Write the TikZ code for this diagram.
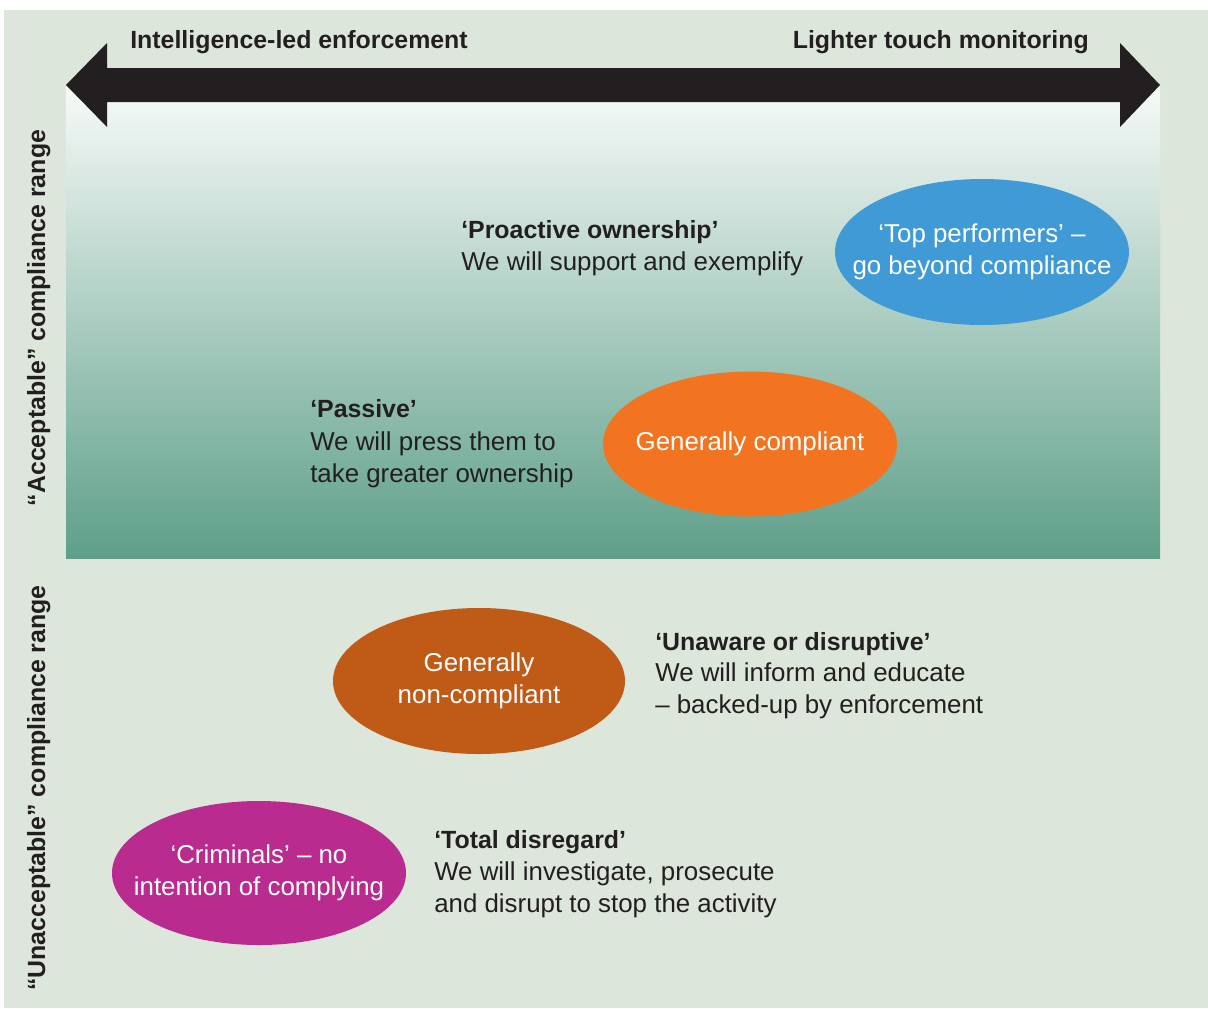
\documentclass[tikz,border=0pt]{standalone}
\usepackage{fontspec}
\setmainfont{Liberation Sans}
\usetikzlibrary{positioning}
\definecolor{panel}{HTML}{DCE6DA}
\definecolor{ink}{HTML}{231F20}
\definecolor{mist}{HTML}{F7FAF8}
\definecolor{teal}{HTML}{5E9F89}
\definecolor{topblue}{HTML}{3F9AD6}
\definecolor{midorange}{HTML}{F27421}
\definecolor{rust}{HTML}{BF5A17}
\definecolor{plum}{HTML}{B92B8E}
\tikzset{heading/.style = {font=\bfseries\fontsize{17.7}{22.7}\selectfont, text=ink, inner sep=0, anchor=base west}}
\tikzset{remark/.style = {font=\fontsize{18.4}{22.7}\selectfont, text=ink, inner sep=0, align=left, anchor=base west}}
\tikzset{ovaltext/.style = {font=\fontsize{18.4}{22.7}\selectfont, text=white, inner sep=0, align=center}}
\tikzset{sidelabel/.style = {heading, rotate=90, anchor=base}}

\begin{document}
\begin{tikzpicture}[x=0.025cm, y=-0.025cm]
      \useasboundingbox (0, 0) rectangle (1208, 1008);
      \fill [panel] (4, 10) rectangle (1208, 1008);
      \shade [top color=mist, bottom color=teal] (66, 85) rectangle (1160, 558);
      \fill [ink] (66, 85) -- (107, 43) -- (107, 68) -- (1120, 68) -- (1120, 43) -- (1160, 85)
                  -- (1120, 127) -- (1120, 102) -- (107, 102) -- (107, 127) -- cycle;
      \node [heading] (enforce) at (130, 48) {Intelligence-led enforcement};
      \node [heading, anchor=base east] (monitor) at (1089, 48) {Lighter touch monitoring};
      \node [sidelabel] (accept) at (45, 318) {“Acceptable” compliance range};
      \node [sidelabel] (unaccept) at (45, 788) {“Unacceptable” compliance range};

      \fill [topblue] (982, 252) ellipse [x radius=147, y radius=73];
      \node [ovaltext] (top) at (982, 252) {‘Top performers’ –\\go beyond compliance};
      \fill [midorange] (750, 444) ellipse [x radius=147, y radius=72.5];
      \node [ovaltext] (compliant) at (750, 444) {Generally compliant};
      \fill [rust] (479, 681) ellipse [x radius=146, y radius=73];
      \node [ovaltext] (noncompliant) at (479, 681) {Generally\\non-compliant};
      \fill [plum] (259, 873) ellipse [x radius=147, y radius=72];
      \node [ovaltext] (criminals) at (259, 873) {‘Criminals’ – no\\intention of complying};

      \node [heading] (proactive) at (461, 238) {‘Proactive ownership’};
      \node [remark] (support) at (461, 270) {We will support and exemplify};
      \node [heading] (passive) at (310, 417) {‘Passive’};
      \node [remark] (press) at (310, 482) {We will press them to\\take greater ownership};
      \node [heading] (unaware) at (655, 650) {‘Unaware or disruptive’};
      \node [remark] (inform) at (655, 713) {We will inform and educate\\– backed-up by enforcement};
      \node [heading] (disregard) at (434, 848) {‘Total disregard’};
      \node [remark] (investigate) at (434, 912) {We will investigate, prosecute\\and disrupt to stop the activity};
    \end{tikzpicture}
\end{document}
